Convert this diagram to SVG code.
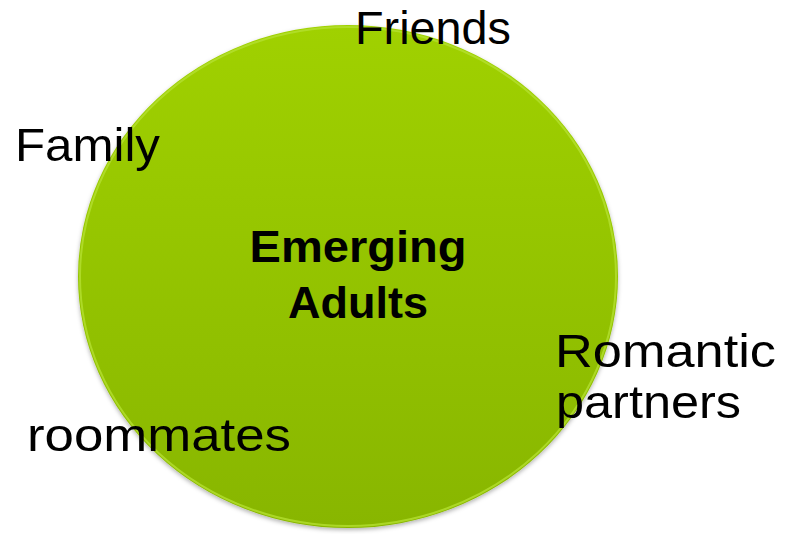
<svg xmlns="http://www.w3.org/2000/svg" width="790" height="534" viewBox="0 0 790 534">
<defs>
<linearGradient id="g" x1="0" y1="0" x2="0" y2="1">
<stop offset="0" stop-color="#a0d102"/>
<stop offset="1" stop-color="#88b605"/>
</linearGradient>
<filter id="sh" x="-10%" y="-10%" width="120%" height="120%">
<feDropShadow dx="0" dy="2" stdDeviation="2" flood-color="#000" flood-opacity="0.3"/>
</filter>
<style>
.lbl{font-family:"Liberation Sans",Arial,sans-serif;font-size:47px;fill:#000}
.ttl{font-family:"Liberation Sans",Arial,sans-serif;font-size:45px;font-weight:bold;fill:#000;text-anchor:middle}
</style>
</defs>
<rect width="790" height="534" fill="#fff"/>
<g id="circle">
<ellipse cx="348" cy="276.5" rx="270" ry="251.5" fill="url(#g)" filter="url(#sh)"/>
<ellipse cx="348" cy="276.5" rx="268" ry="249.5" fill="none" stroke="#b4e030" stroke-width="2" opacity="0.8"/>
<text class="ttl" x="358" y="262" textLength="217" lengthAdjust="spacingAndGlyphs">Emerging</text>
<text class="ttl" x="358" y="318" textLength="140" lengthAdjust="spacingAndGlyphs">Adults</text>
</g>
<g id="friends"><text class="lbl" x="355" y="44" textLength="156" lengthAdjust="spacingAndGlyphs">Friends</text></g>
<g id="family"><text class="lbl" x="15" y="161" textLength="145" lengthAdjust="spacingAndGlyphs">Family</text></g>
<g id="romantic"><text class="lbl" x="555" y="367" textLength="221" lengthAdjust="spacingAndGlyphs">Romantic</text>
<text class="lbl" x="556" y="418" textLength="185" lengthAdjust="spacingAndGlyphs">partners</text></g>
<g id="roommates"><text class="lbl" x="27" y="451" textLength="264" lengthAdjust="spacingAndGlyphs">roommates</text></g>
<g id="connectors"/>
</svg>
